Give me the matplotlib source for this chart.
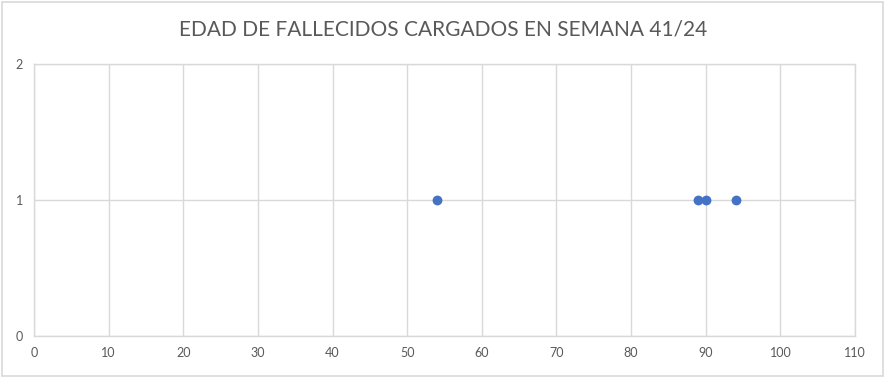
import matplotlib.pyplot as plt
from matplotlib.patches import Rectangle

# datos
edades = [54, 89, 90, 94]
cantidad = [1, 1, 1, 1]
x_ticks = list(range(0, 111, 10))
y_ticks = [0, 1, 2]

gris_texto = "#595959"
gris_linea = "#D9D9D9"
azul = "#4472C4"

fig = plt.figure(figsize=(8.86, 3.77), dpi=100)
ax = fig.add_axes([34 / 886, 41 / 377, 821 / 886, 272 / 377])

ax.scatter(edades, cantidad, s=50, color=azul, zorder=3, linewidths=0)

ax.set_xlim(0, 110)
ax.set_ylim(0, 2)
ax.set_xticks(x_ticks)
ax.set_yticks(y_ticks)
ax.grid(True, color=gris_linea, linewidth=1)
ax.set_axisbelow(True)
for lado in ax.spines.values():
    lado.set_color(gris_linea)
    lado.set_linewidth(1)
ax.tick_params(length=0, labelsize=9, labelcolor=gris_texto, pad=8)
for lbl in ax.get_xticklabels() + ax.get_yticklabels():
    lbl.set_family("Lato")

fig.text(0.5, 1 - 30 / 377, "EDAD DE FALLECIDOS CARGADOS EN SEMANA 41/24",
         ha="center", va="center", fontsize=15, color=gris_texto, family="Lato")

# borde del grafico
fig.patches.append(Rectangle((0.002, 0.003), 0.995, 0.993, transform=fig.transFigure,
                             fill=False, edgecolor=gris_linea, linewidth=1.2))

plt.savefig("out.png", dpi=100)
